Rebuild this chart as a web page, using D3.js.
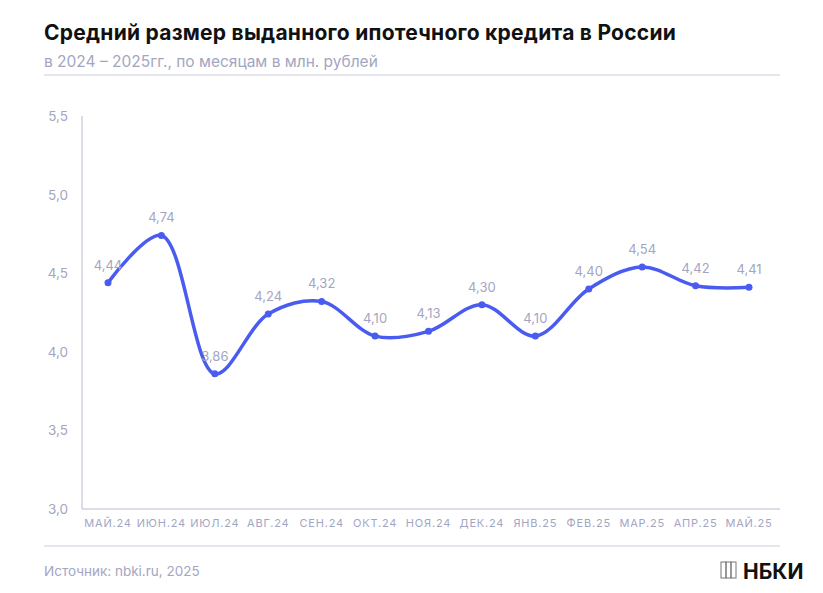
<!DOCTYPE html>
<html><head><meta charset="utf-8">
<script src="https://cdn.jsdelivr.net/npm/d3@7"></script>
<style>body{margin:0;background:#fff;font-family:Inter,"Noto Sans",sans-serif;}</style>
</head><body>
<script>
var months = ["МАЙ.24","ИЮН.24","ИЮЛ.24","АВГ.24","СЕН.24","ОКТ.24","НОЯ.24","ДЕК.24","ЯНВ.25","ФЕВ.25","МАР.25","АПР.25","МАЙ.25"];
var values = [4.44, 4.74, 3.86, 4.24, 4.32, 4.10, 4.13, 4.30, 4.10, 4.40, 4.54, 4.42, 4.41];
var yTicks = [3.0, 3.5, 4.0, 4.5, 5.0, 5.5];

var svg = d3.select("body").append("svg").attr("width", 823).attr("height", 593);
var grey = "#a3a6c2";

svg.append("text").attr("x", 44).attr("y", 40).text("Средний размер выданного ипотечного кредита в России")
    .attr("font-size", 21).attr("font-weight", 700).attr("letter-spacing", 0.25).attr("fill", "#111");
svg.append("text").attr("x", 44).attr("y", 67).text("в 2024 – 2025гг., по месяцам в млн. рублей")
    .attr("font-size", 15.5).attr("fill", grey);
svg.append("line").attr("x1", 44).attr("x2", 780).attr("y1", 75).attr("y2", 75).attr("stroke", "#c9cbdc");
svg.append("line").attr("x1", 44).attr("x2", 780).attr("y1", 546).attr("y2", 546).attr("stroke", "#c9cbdc");

var x = d3.scalePoint().domain(months).range([108, 749]);
var y = d3.scaleLinear().domain([3.0, 5.5]).range([509, 116]);

svg.append("line").attr("x1", 82).attr("x2", 82).attr("y1", 116).attr("y2", 509).attr("stroke", "#b8bace");
svg.append("line").attr("x1", 82).attr("x2", 780).attr("y1", 509).attr("y2", 509).attr("stroke", "#b8bace");

svg.selectAll(".yt").data(yTicks).enter().append("text")
    .attr("x", 68).attr("y", function (d) { return y(d) + 5; })
    .attr("text-anchor", "end").attr("font-size", 13.5).attr("fill", grey)
    .text(function (d) { return d.toFixed(1).replace(".", ","); });

svg.selectAll(".xt").data(months).enter().append("text")
    .attr("x", function (d) { return x(d); }).attr("y", 527)
    .attr("text-anchor", "middle").attr("font-size", 11).attr("letter-spacing", 0.8).attr("fill", grey)
    .text(function (d) { return d; });

var line = d3.line().x(function (d, i) { return x(months[i]); }).y(function (d) { return y(d); })
    .curve(d3.curveCatmullRom.alpha(0.5));
svg.append("path").datum(values).attr("d", line).attr("fill", "none")
    .attr("stroke", "#4a5cf0").attr("stroke-width", 3.5);

svg.selectAll(".pt").data(values).enter().append("circle")
    .attr("cx", function (d, i) { return x(months[i]); }).attr("cy", function (d) { return y(d); })
    .attr("r", 3.5).attr("fill", "#4a5cf0");

svg.selectAll(".lb").data(values).enter().append("text")
    .attr("x", function (d, i) { return x(months[i]); })
    .attr("y", function (d) { return y(d) - 13; })
    .attr("text-anchor", "middle").attr("font-size", 13).attr("fill", grey)
    .text(function (d) { return d.toFixed(2).replace(".", ","); });

// логотип
var logo = svg.append("g").attr("transform", "translate(721,562)");
[0, 5, 10].forEach(function (dx) {
    logo.append("rect").attr("x", dx).attr("y", 0).attr("width", 5).attr("height", 16)
        .attr("fill", "none").attr("stroke", "#777").attr("stroke-width", 1);
});
svg.append("text").attr("x", 743).attr("y", 579).text("НБКИ")
    .attr("font-size", 21).attr("font-weight", 700).attr("fill", "#111");
svg.append("text").attr("x", 44).attr("y", 576).text("Источник: nbki.ru, 2025")
    .attr("font-size", 13.5).attr("fill", grey);
</script>
</body></html>
